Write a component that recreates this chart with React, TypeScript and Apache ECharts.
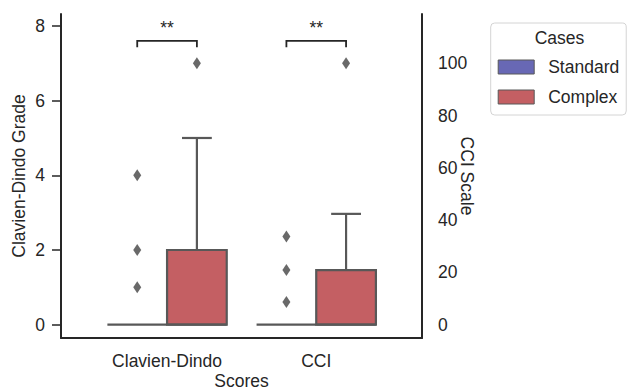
import React, { useEffect, useRef } from "react";
import * as echarts from "echarts";

const categories = ["Clavien-Dindo", "CCI"];
const caseNames = ["Standard", "Complex"];
// box stats: [whiskerLow, q1, median, q3, whiskerHigh]
const standardCD = [0, 0, 0, 0, 0];
const complexCD = [0, 0, 0, 2, 5];
const standardCCI = [0, 0, 0, 0, 0];
const complexCCI = [0, 0, 0, 20.9, 42.4];
const standardOutliersCD = [1, 2, 4];
const complexOutliersCD = [7];
const standardOutliersCCI = [8.7, 20.9, 33.7];
const complexOutliersCCI = [100];
const significance = ["**", "**"];
const leftTicks = [0, 2, 4, 6, 8];
const rightTicks = [0, 20, 40, 60, 80, 100];

const BLUE = "#6868b5";
const RED = "#c45f63";
const EDGE = "#585858";
const INK = "#262626";
const FONT = "Liberation Sans, Arial, sans-serif";
const FS = 17.5;
const HALF = 0.2; // half box width in category units
const OFFSET = 0.2; // dodge offset

function boxRender(offset: number, color: string) {
  return (params: any, api: any) => {
    const x = api.value(0) + offset;
    const lo = api.value(1);
    const q1 = api.value(2);
    const med = api.value(3);
    const q3 = api.value(4);
    const hi = api.value(5);
    const tl = api.coord([x - HALF, q3]);
    const br = api.coord([x + HALF, q1]);
    const cTop = api.coord([x, hi]);
    const cQ3 = api.coord([x, q3]);
    const cQ1 = api.coord([x, q1]);
    const cLo = api.coord([x, lo]);
    const capL = api.coord([x - HALF / 2, hi])[0];
    const capR = api.coord([x + HALF / 2, hi])[0];
    const mL = api.coord([x - HALF, med]);
    const mR = api.coord([x + HALF, med]);
    const lineStyle = { stroke: EDGE, lineWidth: 2.2, fill: null };
    const children: any[] = [];
    if (hi > q3) {
      children.push({ type: "line", shape: { x1: cQ3[0], y1: cQ3[1], x2: cTop[0], y2: cTop[1] }, style: lineStyle });
      children.push({ type: "line", shape: { x1: capL, y1: cTop[1], x2: capR, y2: cTop[1] }, style: lineStyle });
    }
    if (lo < q1) {
      children.push({ type: "line", shape: { x1: cQ1[0], y1: cQ1[1], x2: cLo[0], y2: cLo[1] }, style: lineStyle });
      children.push({ type: "line", shape: { x1: capL, y1: cLo[1], x2: capR, y2: cLo[1] }, style: lineStyle });
    }
    if (q3 > q1) {
      children.push({
        type: "rect",
        shape: { x: tl[0], y: tl[1], width: br[0] - tl[0], height: br[1] - tl[1] },
        style: { fill: color, stroke: EDGE, lineWidth: 2.2 },
      });
    }
    children.push({ type: "line", shape: { x1: mL[0], y1: mL[1], x2: mR[0], y2: mR[1] }, style: lineStyle });
    return { type: "group", children };
  };
}

function bracketRender(params: any, api: any) {
  const x = api.value(0);
  const yTop = api.value(1);
  const yDrop = api.value(2);
  const a = api.coord([x - OFFSET, yDrop]);
  const b = api.coord([x - OFFSET, yTop]);
  const c = api.coord([x + OFFSET, yTop]);
  const d = api.coord([x + OFFSET, yDrop]);
  return {
    type: "group",
    children: [
      {
        type: "polyline",
        shape: { points: [a, b, c, d] },
        style: { stroke: INK, lineWidth: 1.8, fill: null },
      },
      {
        type: "text",
        x: (b[0] + c[0]) / 2,
        y: b[1] - 13,
        style: {
          text: significance[params.dataIndex],
          align: "center",
          verticalAlign: "middle",
          fill: INK,
          font: `${FS}px ${FONT}`,
        },
      },
    ],
  };
}

export default function App() {
  const ref = useRef<HTMLDivElement>(null);
  useEffect(() => {
    if (!ref.current) return;
    const chart = echarts.init(ref.current, null, { renderer: "svg" });
    const textStyle = { color: INK, fontSize: FS, fontFamily: FONT };
    const leftMin = -0.356;
    const leftMax = 8.32;
    const ratio = 0.07;
    chart.setOption({
      animation: false,
      backgroundColor: "#ffffff",
      textStyle: { fontFamily: FONT },
      grid: { left: 61, top: 14, width: 361, height: 324, containLabel: false, outerBoundsMode: "none" },
      xAxis: {
        type: "value",
        min: -0.711,
        max: 1.709,
        name: "Scores",
        nameLocation: "middle",
        nameGap: 34,
        nameMoveOverlap: false,
        nameTextStyle: textStyle,
        axisLine: { show: true, onZero: false, lineStyle: { color: INK, width: 2 } },
        axisTick: { show: false },
        splitLine: { show: false },
        axisLabel: {
          ...textStyle,
          margin: 14,
          customValues: [0, 1],
          formatter: (v: number) => categories[Math.round(v)] ?? "",
        },
      },
      yAxis: [
        {
          type: "value",
          min: leftMin,
          max: leftMax,
          name: "Clavien-Dindo Grade",
          nameLocation: "middle",
          nameGap: 33,
          nameMoveOverlap: false,
          nameTextStyle: textStyle,
          axisLine: { show: true, onZero: false, lineStyle: { color: INK, width: 2 } },
          axisTick: { show: true, length: 9, customValues: leftTicks, lineStyle: { color: INK, width: 1.5 } },
          axisLabel: { ...textStyle, margin: 16, customValues: leftTicks },
          splitLine: { show: false },
        },
        {
          type: "value",
          position: "right",
          min: leftMin / ratio,
          max: leftMax / ratio,
          name: "CCI Scale",
          nameLocation: "middle",
          nameRotate: -90,
          nameGap: 36,
          nameMoveOverlap: false,
          nameTextStyle: textStyle,
          axisLine: { show: true, onZero: false, lineStyle: { color: INK, width: 2 } },
          axisTick: { show: false },
          axisLabel: { ...textStyle, margin: 16, customValues: rightTicks },
          splitLine: { show: false },
        },
      ],
      legend: {
        left: 490.7,
        top: 23,
        orient: "vertical",
        padding: [35, 7, 9, 7],
        borderColor: "#d4d4d4",
        borderWidth: 1,
        borderRadius: 4,
        backgroundColor: "#ffffff",
        itemWidth: 36,
        itemHeight: 14,
        itemGap: 12,
        icon: "rect",
        selectedMode: false,
        textStyle: { ...textStyle, lineHeight: 14, padding: [0, 0, 0, 9] },
        data: [
          { name: caseNames[0], itemStyle: { color: BLUE, borderColor: EDGE, borderWidth: 1 } },
          { name: caseNames[1], itemStyle: { color: RED, borderColor: EDGE, borderWidth: 1 } },
        ],
      },
      graphic: [
        {
          type: "text",
          x: 559.5,
          y: 38,
          z: 100,
          style: { text: "Cases", align: "center", verticalAlign: "middle", fill: INK, font: `${FS}px ${FONT}` },
        },
      ],
      series: [
        {
          name: caseNames[0],
          type: "custom",
          yAxisIndex: 0,
          itemStyle: { color: BLUE },
          renderItem: boxRender(-OFFSET, BLUE),
          data: [[0, ...standardCD]],
          silent: true,
        },
        {
          name: caseNames[1],
          type: "custom",
          yAxisIndex: 0,
          itemStyle: { color: RED },
          renderItem: boxRender(OFFSET, RED),
          data: [[0, ...complexCD]],
          silent: true,
        },
        {
          name: caseNames[0],
          type: "custom",
          yAxisIndex: 1,
          itemStyle: { color: BLUE },
          renderItem: boxRender(-OFFSET, BLUE),
          data: [[1, ...standardCCI]],
          silent: true,
        },
        {
          name: caseNames[1],
          type: "custom",
          yAxisIndex: 1,
          itemStyle: { color: RED },
          renderItem: boxRender(OFFSET, RED),
          data: [[1, ...complexCCI]],
          silent: true,
        },
        {
          name: "outliers-cd",
          type: "scatter",
          yAxisIndex: 0,
          symbol: "diamond",
          symbolSize: [8, 12],
          itemStyle: { color: "#444444" },
          data: [
            ...standardOutliersCD.map((v) => [0 - OFFSET, v]),
            ...complexOutliersCD.map((v) => [0 + OFFSET, v]),
          ],
          silent: true,
        },
        {
          name: "outliers-cci",
          type: "scatter",
          yAxisIndex: 1,
          symbol: "diamond",
          symbolSize: [8, 12],
          itemStyle: { color: "#444444" },
          data: [
            ...standardOutliersCCI.map((v) => [1 - OFFSET, v]),
            ...complexOutliersCCI.map((v) => [1 + OFFSET, v]),
          ],
          silent: true,
        },
        {
          name: "significance",
          type: "custom",
          yAxisIndex: 0,
          renderItem: bracketRender,
          data: [
            [0, 7.6, 7.43],
            [1, 7.6, 7.43],
          ],
          silent: true,
        },
      ],
    });
    return () => chart.dispose();
  }, []);
  return <div ref={ref} style={{ width: 628, height: 392, position: "absolute", left: 0, top: 0 }} />;
}
